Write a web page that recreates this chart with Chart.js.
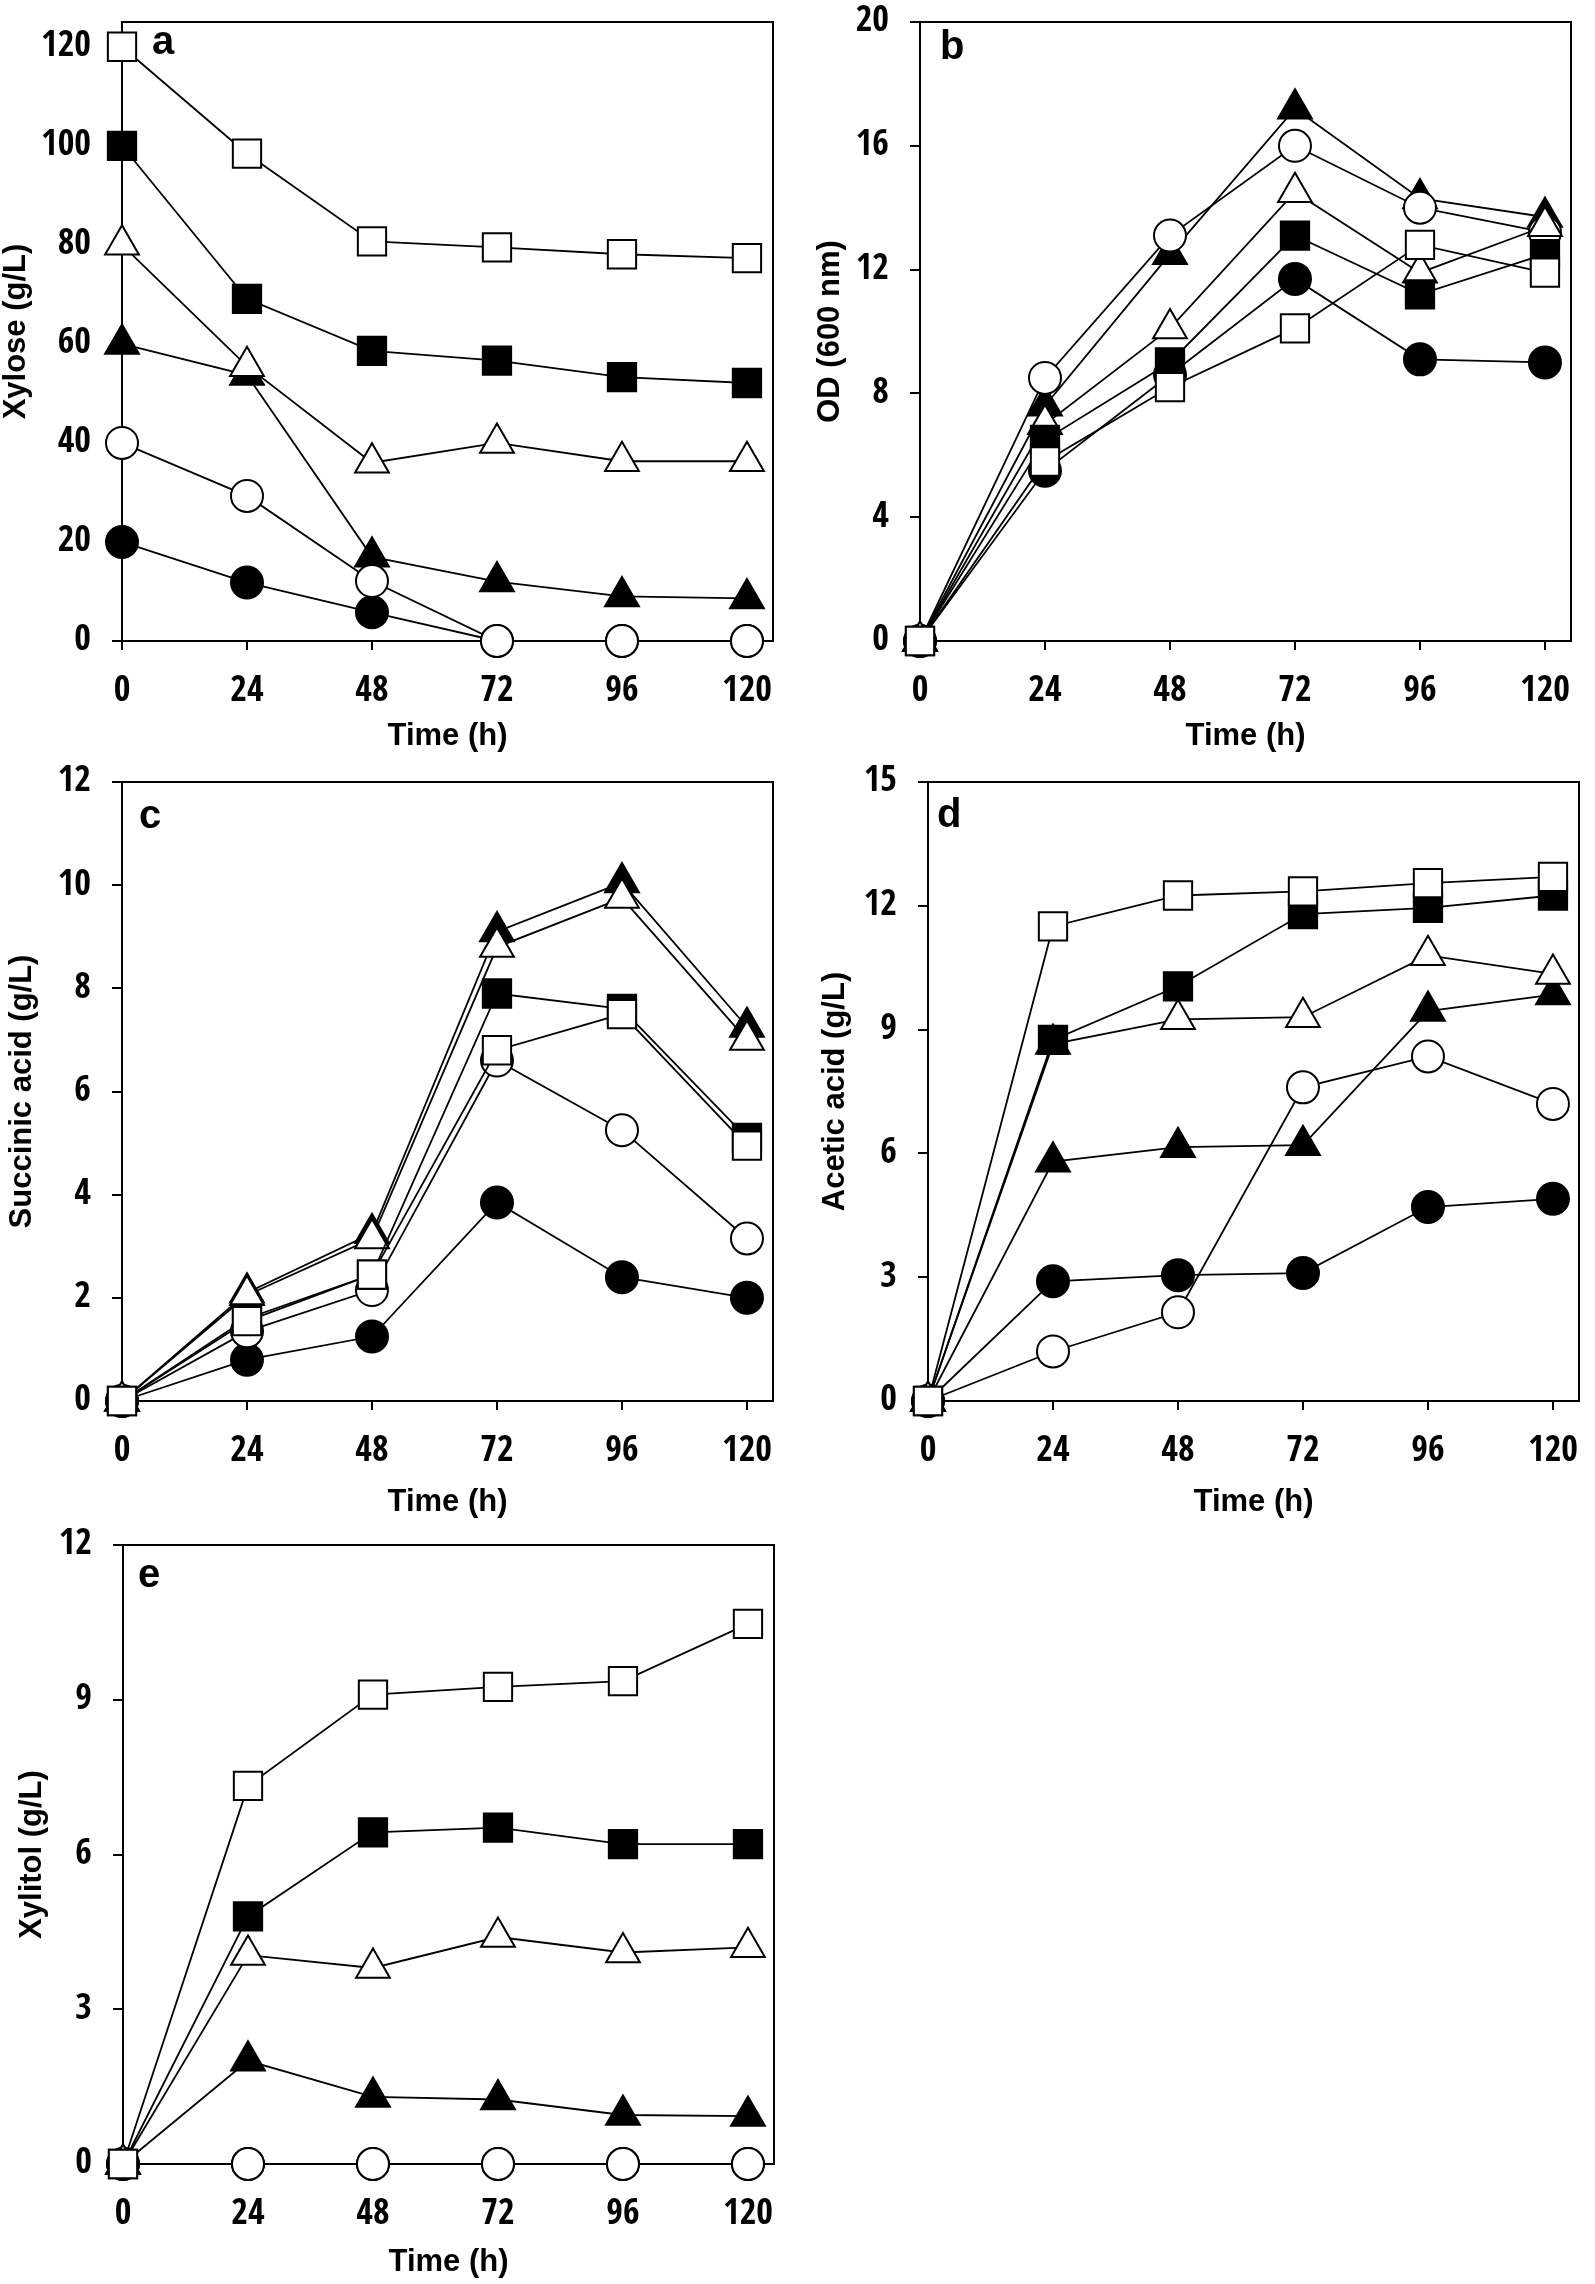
<!DOCTYPE html>
<html>
<head>
<meta charset="utf-8">
<script src="https://cdn.jsdelivr.net/npm/chart.js@4.4.1/dist/chart.umd.min.js"></script>
<style>
    html, body { margin: 0; padding: 0; background: #fff; }
    body { position: relative; width: 1595px; height: 2284px; overflow: hidden; }
    canvas { position: absolute; }
</style>
</head>
<body>
<canvas id="panelA"></canvas>
<canvas id="panelB"></canvas>
<canvas id="panelC"></canvas>
<canvas id="panelD"></canvas>
<canvas id="panelE"></canvas>
<script>
// Sampling times
const hours = [0, 24, 48, 72, 96, 120];
const hourTicks = [0, 24, 48, 72, 96, 120];

// (a) Xylose (g/L), one array per initial xylose level
const xylose120 = [120, 98.4, 80.7, 79.5, 78.1, 77.3];
const xylose100 = [100, 69.1, 58.6, 56.6, 53.3, 52.1];
const xylose80 = [80, 55.5, 36, 40, 36.3, 36.3];
const xylose60 = [60, 53.7, 17, 12, 9, 8.6];
const xylose40 = [40, 29.3, 12.1, 0, 0, 0];
const xylose20 = [20, 11.8, 5.8, 0, 0, 0];
const xyloseTicks = [0, 20, 40, 60, 80, 100, 120];

// (b) OD (600 nm)
const od120 = [0, 5.8, 8.2, 10.1, 12.8, 11.9];
const od100 = [0, 6.5, 9.0, 13.1, 11.2, 12.5];
const od80 = [0, 7.0, 10.1, 14.5, 11.9, 13.4];
const od60 = [0, 7.6, 12.5, 17.2, 14.3, 13.7];
const od40 = [0, 8.5, 13.1, 16.0, 14.0, 13.2];
const od20 = [0, 5.5, 8.6, 11.7, 9.1, 9.0];
const odTicks = [0, 4, 8, 12, 16, 20];

// (c) Succinic acid (g/L)
const succinic120 = [0, 1.55, 2.45, 6.8, 7.5, 4.95];
const succinic100 = [0, 1.6, 2.45, 7.9, 7.6, 5.1];
const succinic80 = [0, 2.05, 3.15, 8.8, 9.75, 7.0];
const succinic60 = [0, 2.1, 3.25, 9.1, 10.05, 7.25];
const succinic40 = [0, 1.35, 2.15, 6.6, 5.25, 3.15];
const succinic20 = [0, 0.8, 1.25, 3.85, 2.4, 2.0];
const succinicTicks = [0, 2, 4, 6, 8, 10, 12];

// (d) Acetic acid (g/L)
const acetic120 = [0, 11.5, 12.25, 12.35, 12.55, 12.7];
const acetic100 = [0, 8.75, 10.05, 11.8, 11.95, 12.25];
const acetic80 = [0, 8.65, 9.25, 9.3, 10.8, 10.35];
const acetic60 = [0, 5.8, 6.15, 6.2, 9.45, 9.85];
const acetic40 = [0, 1.2, 2.15, 7.6, 8.35, 7.2];
const acetic20 = [0, 2.9, 3.05, 3.1, 4.7, 4.9];
const aceticTicks = [0, 3, 6, 9, 12, 15];

// (e) Xylitol (g/L)
const xylitol120 = [0, 7.33, 9.1, 9.25, 9.36, 10.47];
const xylitol100 = [0, 4.8, 6.43, 6.52, 6.2, 6.2];
const xylitol80 = [0, 4.05, 3.8, 4.4, 4.1, 4.2];
const xylitol60 = [0, 2.0, 1.3, 1.25, 0.95, 0.93];
const xylitol40 = [0, 0, 0, 0, 0, 0];
const xylitol20 = [0, 0, 0, 0, 0, 0];
const xylitolTicks = [0, 3, 6, 9, 12];

// Layout (plot area is the same size in every panel)
const AREA_W = 663, AREA_H = 625;
const AXIS_W = 122, AXIS_H = 130, PAD_TOP = 16, PAD_RIGHT = 10;

// narrow bold numbers, like the original
const tickFont = { family: "'Open Sans Condensed', 'DejaVu Sans Condensed', sans-serif", size: 36, weight: 'bold', lineHeight: 1 };
const titleFont = { family: "'Liberation Sans', Arial, sans-serif", size: 31, weight: 'bold', lineHeight: 1 };

// marker styles, listed top-most first (dataset 0 is drawn last)
const markers = [
    { key: '120', style: 'rect', radius: 20, fill: '#fff' },
    { key: '100', style: 'rect', radius: 20, fill: '#000' },
    { key: '80', style: 'triangle', radius: 19.5, fill: '#fff' },
    { key: '40', style: 'circle', radius: 16, fill: '#fff' },
    { key: '60', style: 'triangle', radius: 19.5, fill: '#000' },
    { key: '20', style: 'circle', radius: 16, fill: '#000' }
];

const framePlugin = {
    id: 'frame',
    beforeDatasetsDraw(chart) {
        const { ctx, chartArea: a } = chart;
        ctx.save();
        ctx.strokeStyle = '#000';
        ctx.lineWidth = 2;
        ctx.strokeRect(a.left, a.top, a.right - a.left, a.bottom - a.top);
        ctx.restore();
    }
};

const letterPlugin = {
    id: 'panelLetter',
    afterDraw(chart, args, opts) {
        const { ctx, chartArea: a } = chart;
        ctx.save();
        ctx.fillStyle = '#000';
        ctx.font = "bold 40px 'Liberation Sans', Arial, sans-serif";
        ctx.textBaseline = 'alphabetic';
        ctx.fillText(opts.text, a.left + opts.dx, a.top + opts.dy);
        ctx.restore();
    }
};

function makePanel(id, spec) {
    const canvas = document.getElementById(id);
    canvas.width = AXIS_W + AREA_W + PAD_RIGHT;
    canvas.height = PAD_TOP + AREA_H + AXIS_H;
    canvas.style.left = (spec.left - AXIS_W) + 'px';
    canvas.style.top = (spec.top - PAD_TOP) + 'px';

    const datasets = markers.map(m => ({
        data: hours.map((h, i) => ({ x: h, y: spec.series[m.key][i] })),
        borderColor: '#000',
        borderWidth: 1.8,
        tension: 0,
        fill: false,
        clip: false,
        pointStyle: m.style,
        pointRadius: m.radius,
        pointHoverRadius: m.radius,
        pointBackgroundColor: m.fill,
        pointBorderColor: '#000',
        pointBorderWidth: 2
    }));

    return new Chart(canvas, {
        type: 'line',
        data: { datasets },
        options: {
            responsive: false,
            animation: false,
            devicePixelRatio: 1,
            events: [],
            layout: { padding: { left: 0, top: PAD_TOP, right: PAD_RIGHT, bottom: 0 } },
            plugins: {
                legend: { display: false },
                tooltip: { enabled: false },
                panelLetter: { text: spec.letter, dx: spec.letterDx, dy: spec.letterDy }
            },
            scales: {
                x: {
                    type: 'linear',
                    min: 0,
                    max: 125,
                    afterBuildTicks: s => { s.ticks = hourTicks.map(v => ({ value: v })); },
                    afterFit: s => { s.height = AXIS_H; s.paddingLeft = 0; s.paddingRight = 0; },
                    grid: { display: true, drawOnChartArea: false, drawTicks: true, tickLength: 9, lineWidth: 2, color: '#000', tickColor: '#000' },
                    border: { display: true, color: '#000', width: 2 },
                    ticks: { color: '#000', font: tickFont, padding: 24, maxRotation: 0, autoSkip: false },
                    title: { display: true, text: 'Time (h)', color: '#000', font: titleFont, padding: { top: 0, bottom: spec.xTitlePad } }
                },
                y: {
                    type: 'linear',
                    min: 0,
                    max: spec.yMax,
                    afterBuildTicks: s => { s.ticks = spec.yTicks.map(v => ({ value: v })); },
                    afterFit: s => { s.width = AXIS_W; s.paddingTop = 0; s.paddingBottom = 0; },
                    grid: { display: true, drawOnChartArea: false, drawTicks: true, tickLength: 10, lineWidth: 2, color: '#000', tickColor: '#000' },
                    border: { display: true, color: '#000', width: 2 },
                    ticks: { color: '#000', font: tickFont, padding: 21, autoSkip: false },
                    title: { display: true, text: spec.yTitle, color: '#000', font: titleFont, padding: { top: spec.yTitlePad, bottom: 0 } }
                }
            }
        },
        plugins: [framePlugin, letterPlugin]
    });
}

makePanel('panelA', {
    left: 122, top: 16, yMax: 125, yTicks: xyloseTicks, yTitle: 'Xylose (g/L)', yTitlePad: 1,
    xTitlePad: 19.5, letter: 'a', letterDx: 30, letterDy: 32,
    series: { '120': xylose120, '100': xylose100, '80': xylose80, '60': xylose60, '40': xylose40, '20': xylose20 }
});
makePanel('panelB', {
    left: 920, top: 16, yMax: 20, yTicks: odTicks, yTitle: 'OD (600 nm)', yTitlePad: 17,
    xTitlePad: 19.5, letter: 'b', letterDx: 20, letterDy: 37,
    series: { '120': od120, '100': od100, '80': od80, '60': od60, '40': od40, '20': od20 }
});
makePanel('panelC', {
    left: 122, top: 776, yMax: 12, yTicks: succinicTicks, yTitle: 'Succinic acid (g/L)', yTitlePad: 7,
    xTitlePad: 13.5, letter: 'c', letterDx: 17, letterDy: 46,
    series: { '120': succinic120, '100': succinic100, '80': succinic80, '60': succinic60, '40': succinic40, '20': succinic20 }
});
makePanel('panelD', {
    left: 928, top: 776, yMax: 15, yTicks: aceticTicks, yTitle: 'Acetic acid (g/L)', yTitlePad: 14,
    xTitlePad: 13.5, letter: 'd', letterDx: 9, letterDy: 45,
    series: { '120': acetic120, '100': acetic100, '80': acetic80, '60': acetic60, '40': acetic40, '20': acetic20 }
});
makePanel('panelE', {
    left: 123, top: 1539, yMax: 12, yTicks: xylitolTicks, yTitle: 'Xylitol (g/L)', yTitlePad: 16,
    xTitlePad: 16.5, letter: 'e', letterDx: 15, letterDy: 42,
    series: { '120': xylitol120, '100': xylitol100, '80': xylitol80, '60': xylitol60, '40': xylitol40, '20': xylitol20 }
});
</script>
</body>
</html>
